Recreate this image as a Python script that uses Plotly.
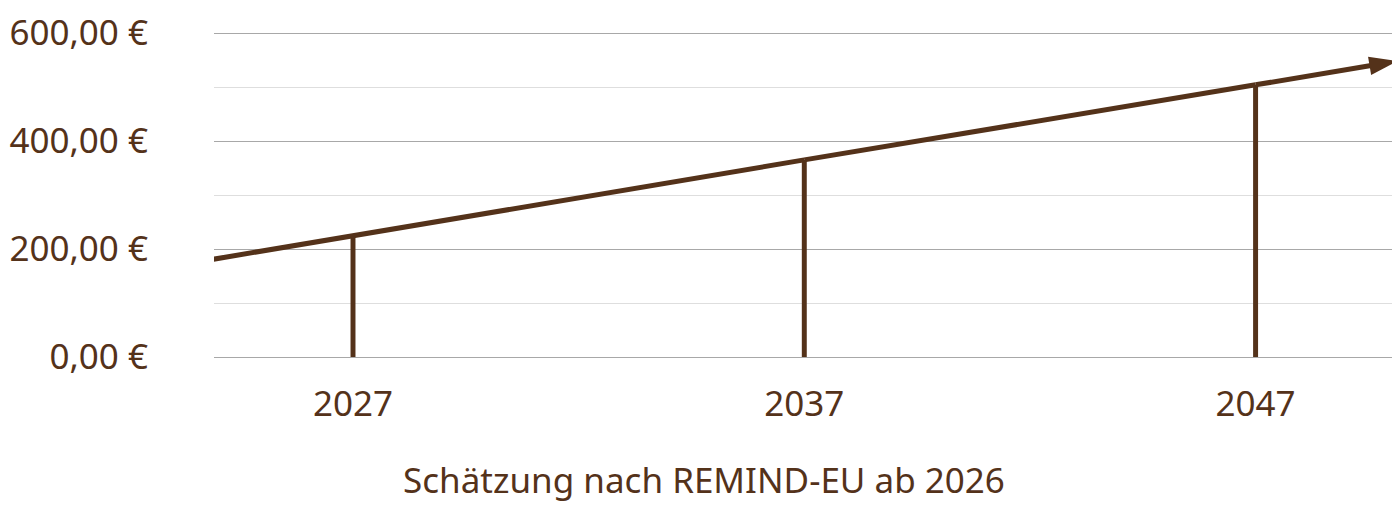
import plotly.graph_objects as go

# Werte (aus dem Bild geschätzt)
jahre = [2027, 2037, 2047]
preise = [224, 365, 504]

trend_jahre = [2023.9, 2027, 2037, 2047, 2050.15]
trend_preise = [181, 224, 365, 504, 548]

y_ticks = [0, 200, 400, 600]
y_labels = ["0,00 €", "200,00 €", "400,00 €", "600,00 €"]
titel = "Schätzung nach REMIND-EU ab 2026"

braun = "#54321a"
schrift = "Noto Sans"

fig = go.Figure()

# Senkrechte Balken für die Jahre
fig.add_trace(go.Bar(
    x=jahre, y=preise, width=0.11,
    marker=dict(color=braun, line=dict(width=0)),
    hoverinfo="x+y"
))

# Trendlinie mit Pfeilspitze
fig.add_trace(go.Scatter(
    x=trend_jahre, y=trend_preise,
    mode="lines+markers",
    line=dict(color=braun, width=5),
    marker=dict(
        symbol=["circle"] * (len(trend_jahre) - 1) + ["arrow"],
        size=[0] * (len(trend_jahre) - 1) + [30],
        angleref="previous",
        color=braun,
        opacity=1,
        line=dict(width=0)
    ),
    cliponaxis=False,
    hoverinfo="skip"
))

# Seite hat 8px Rand im Browser; etwas Luft oben/unten, damit die Gitterlinien bei 0 und 600 sichtbar bleiben
pad = 5 / 0.54
fig.update_layout(
    width=1392, height=501,
    margin=dict(l=206, r=0, t=20, b=147),
    plot_bgcolor="white",
    paper_bgcolor="white",
    showlegend=False,
    font=dict(family=schrift, color=braun, size=35),
    title=dict(
        text=titel, x=0.5, xref="container", xanchor="center",
        y=28 / 501, yref="container", yanchor="middle",
        font=dict(family=schrift, size=35, color=braun)
    )
)

fig.update_xaxes(
    range=[2023.92, 2050.2],
    tickvals=jahre,
    ticktext=[str(j) for j in jahre],
    showgrid=False, zeroline=False, showline=False,
    ticks="outside", ticklen=11, tickcolor="rgba(0,0,0,0)",
    tickfont=dict(size=35),
    automargin=False
)

fig.update_yaxes(
    range=[-pad, 600 + pad],
    tickvals=y_ticks,
    ticktext=y_labels,
    showgrid=True, gridcolor="#a8a8a8", gridwidth=1.3,
    zeroline=False, showline=False,
    minor=dict(tickvals=[100, 300, 500], showgrid=True, gridcolor="#dedede", gridwidth=1.3),
    ticklabelstandoff=65,
    tickfont=dict(size=35),
    automargin=False
)

fig.write_html("out.html")
